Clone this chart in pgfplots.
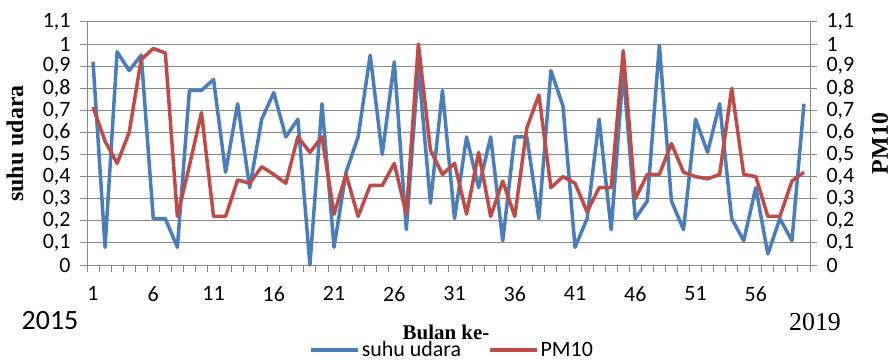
\documentclass[border=0pt]{standalone}
\usepackage{fontspec}
\setmainfont{Liberation Serif}
\newfontfamily\calfont{Carlito}
\usepackage{pgfplots}
\pgfplotsset{compat=1.18}
\definecolor{cblue}{HTML}{4A7EBB}
\definecolor{cred}{HTML}{BE4B48}
\definecolor{cgrid}{HTML}{878787}

\pgfplotstableread{
x y
1 0.92
2 0.08
3 0.965
4 0.88
5 0.95
6 0.21
7 0.21
8 0.08
9 0.79
10 0.79
11 0.84
12 0.42
13 0.73
14 0.35
15 0.66
16 0.78
17 0.58
18 0.66
19 0.00
20 0.73
21 0.08
22 0.42
23 0.58
24 0.95
25 0.50
26 0.92
27 0.16
28 0.90
29 0.28
30 0.79
31 0.21
32 0.58
33 0.35
34 0.58
35 0.11
36 0.58
37 0.58
38 0.21
39 0.88
40 0.72
41 0.08
42 0.21
43 0.66
44 0.16
45 0.88
46 0.21
47 0.29
48 0.995
49 0.29
50 0.16
51 0.66
52 0.51
53 0.73
54 0.21
55 0.11
56 0.35
57 0.05
58 0.21
59 0.11
60 0.73
}\suhu

\pgfplotstableread{
x y
1 0.715
2 0.56
3 0.46
4 0.60
5 0.93
6 0.98
7 0.96
8 0.22
9 0.45
10 0.69
11 0.22
12 0.22
13 0.385
14 0.37
15 0.445
16 0.41
17 0.37
18 0.58
19 0.51
20 0.58
21 0.23
22 0.41
23 0.22
24 0.36
25 0.36
26 0.46
27 0.23
28 1.0
29 0.52
30 0.41
31 0.46
32 0.23
33 0.51
34 0.22
35 0.38
36 0.22
37 0.62
38 0.77
39 0.35
40 0.40
41 0.37
42 0.24
43 0.35
44 0.35
45 0.97
46 0.30
47 0.41
48 0.41
49 0.55
50 0.42
51 0.40
52 0.39
53 0.41
54 0.80
55 0.41
56 0.40
57 0.22
58 0.22
59 0.38
60 0.42
}\pmten

\begin{document}
\begin{tikzpicture}
\path[use as bounding box] (0,0) rectangle (892bp,361bp);
\pgfplotsset{
  base/.style={
    at={(87bp,96bp)}, anchor=south west,
    scale only axis, width=723bp, height=243bp,
    xmin=0.5, xmax=60.5, ymin=0, ymax=1.1,
    ytick={0,0.1,0.2,0.3,0.4,0.5,0.6,0.7,0.8,0.9,1,1.1},
    /pgf/number format/use comma,
    /pgf/number format/assume math mode=true,
    tick label style={font=\fontsize{22}{22}\selectfont\calfont},
    axis line style={cgrid, line width=1bp, -},
    tick style={cgrid, line width=1bp},
    tick align=outside,
    major tick length=7bp,
    clip=false,
  }
}
\begin{axis}[base,
  axis x line*=bottom, axis y line*=left,
  xtick={0.5,1.5,...,60.5}, xticklabels={},
  extra x ticks={1,6,11,16,21,26,31,36,41,46,51,56},
  extra x tick style={major tick length=0pt, xticklabel style={yshift=-18bp}},
  yticklabel style={xshift=-6bp},
  ymajorgrids, grid style={cgrid, line width=1bp},
  xlabel={Bulan ke-},
  xlabel style={font=\fontsize{21}{21}\selectfont\bfseries, at={(axis description cs:0.4965,-0.2757)}, anchor=center},
  ylabel={suhu udara},
  ylabel style={font=\fontsize{24}{24}\selectfont\bfseries, at={(axis description cs:-0.0996,0.5)}, anchor=center, rotate=0},
]
\addplot[cblue, line width=3.5bp, line join=round, no markers] table[x=x,y=y] {\suhu};
\end{axis}
\begin{axis}[base,
  axis y line*=right, axis x line=none,
  yticklabel style={xshift=6bp},
  ylabel={PM10},
  ylabel style={font=\fontsize{24}{24}\selectfont\bfseries, at={(axis description cs:1.097,0.5)}, anchor=center},
  legend style={at={(0.505,-0.35)}, anchor=center, draw=none, fill=none,
    legend columns=2, font=\fontsize{22}{22}\selectfont\calfont,
    /tikz/every even column/.append style={column sep=25bp}},
  legend image code/.code={\draw[#1] (0bp,0bp) -- (47bp,0bp);},
]
\addlegendimage{cblue, line width=3.5bp}
\addlegendentry{suhu udara}
\addplot[cred, line width=3.5bp, line join=round, no markers] table[x=x,y=y] {\pmten};
\addlegendentry{PM10}
\end{axis}
\node[font=\fontsize{28}{28}\selectfont\calfont] at (50bp,40bp) {2015};
\node[font=\fontsize{26}{26}\selectfont] at (815bp,38.5bp) {2019};
\end{tikzpicture}
\end{document}
